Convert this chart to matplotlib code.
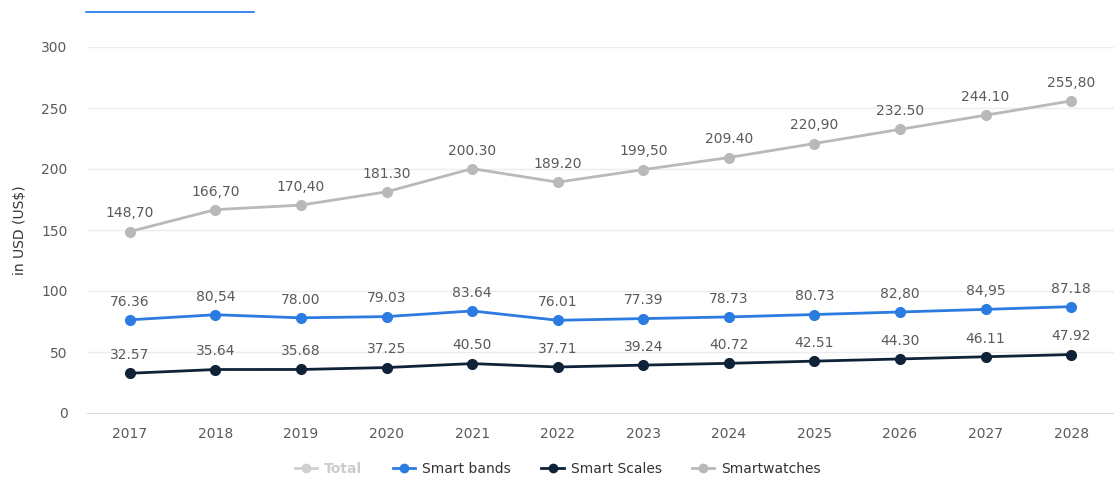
import matplotlib.pyplot as plt
from matplotlib.lines import Line2D

years = ["2017", "2018", "2019", "2020", "2021", "2022",
         "2023", "2024", "2025", "2026", "2027", "2028"]
smartwatches = [148.70, 166.70, 170.40, 181.30, 200.30, 189.20,
                199.50, 209.40, 220.90, 232.50, 244.10, 255.80]
smartwatches_lbl = ["148,70", "166,70", "170,40", "181.30", "200.30", "189.20",
                    "199,50", "209.40", "220,90", "232.50", "244.10", "255,80"]
smart_bands = [76.36, 80.54, 78.00, 79.03, 83.64, 76.01,
               77.39, 78.73, 80.73, 82.80, 84.95, 87.18]
smart_bands_lbl = ["76.36", "80,54", "78.00", "79.03", "83.64", "76.01",
                   "77.39", "78.73", "80.73", "82,80", "84,95", "87.18"]
smart_scales = [32.57, 35.64, 35.68, 37.25, 40.50, 37.71,
                39.24, 40.72, 42.51, 44.30, 46.11, 47.92]
smart_scales_lbl = ["32.57", "35.64", "35.68", "37.25", "40.50", "37.71",
                    "39.24", "40.72", "42.51", "44.30", "46.11", "47.92"]
yticks = [0, 50, 100, 150, 200, 250, 300]

c_watch = "#b9b9b9"
c_band = "#2b7be0"
c_scale = "#0f2238"
c_text = "#5a5a5a"

fig = plt.figure(figsize=(11.14, 4.79), dpi=100)
ax = fig.add_axes([87 / 1114, 1 - 413 / 479, 1027 / 1114, 366 / 479])

x = list(range(len(years)))
series = [(smartwatches, smartwatches_lbl, c_watch),
          (smart_bands, smart_bands_lbl, c_band),
          (smart_scales, smart_scales_lbl, c_scale)]
for vals, lbls, col in series:
    ax.plot(x, vals, color=col, lw=2, marker="o", ms=7, zorder=3)
    for xi, v, t in zip(x, vals, lbls):
        ax.annotate(t, (xi, v), xytext=(0, 8), textcoords="offset points",
                    ha="center", va="bottom", fontsize=10, color=c_text)

ax.set_xlim(-0.5, len(years) - 0.5)
ax.set_ylim(0, 300)
ax.set_yticks(yticks)
ax.set_xticks(x)
ax.set_xticklabels(years)
ax.tick_params(length=0, labelsize=10, colors=c_text)
ax.tick_params(axis="y", pad=14)
ax.tick_params(axis="x", pad=10)
ax.grid(axis="y", color="#ececec", lw=1)
ax.set_axisbelow(True)
for s in ["top", "right", "left"]:
    ax.spines[s].set_visible(False)
ax.spines["bottom"].set_color("#d4dbe6")
ax.set_ylabel("in USD (US$)", fontsize=10, color="#333333", labelpad=10)

# legend
handles = [
    Line2D([], [], color="#d0d0d0", lw=2, marker="o", ms=6),
    Line2D([], [], color=c_band, lw=2, marker="o", ms=6),
    Line2D([], [], color=c_scale, lw=2, marker="o", ms=6),
    Line2D([], [], color=c_watch, lw=2, marker="o", ms=6),
]
labels = ["Total", "Smart bands", "Smart Scales", "Smartwatches"]
leg = fig.legend(handles, labels, loc="center", bbox_to_anchor=(558 / 1114, 1 - 469 / 479),
                 ncol=4, frameon=False, fontsize=10, handlelength=1.6,
                 columnspacing=2.2, handletextpad=0.5)
for i, t in enumerate(leg.get_texts()):
    t.set_color("#cccccc" if i == 0 else "#333333")
    if i == 0:
        t.set_fontweight("bold")

# blue underline at the top
fig.add_artist(Line2D([86 / 1114, 254 / 1114], [1 - 12 / 479, 1 - 12 / 479],
                      color="#1a73e8", lw=1.2))

fig.savefig("out.png", dpi=100)
